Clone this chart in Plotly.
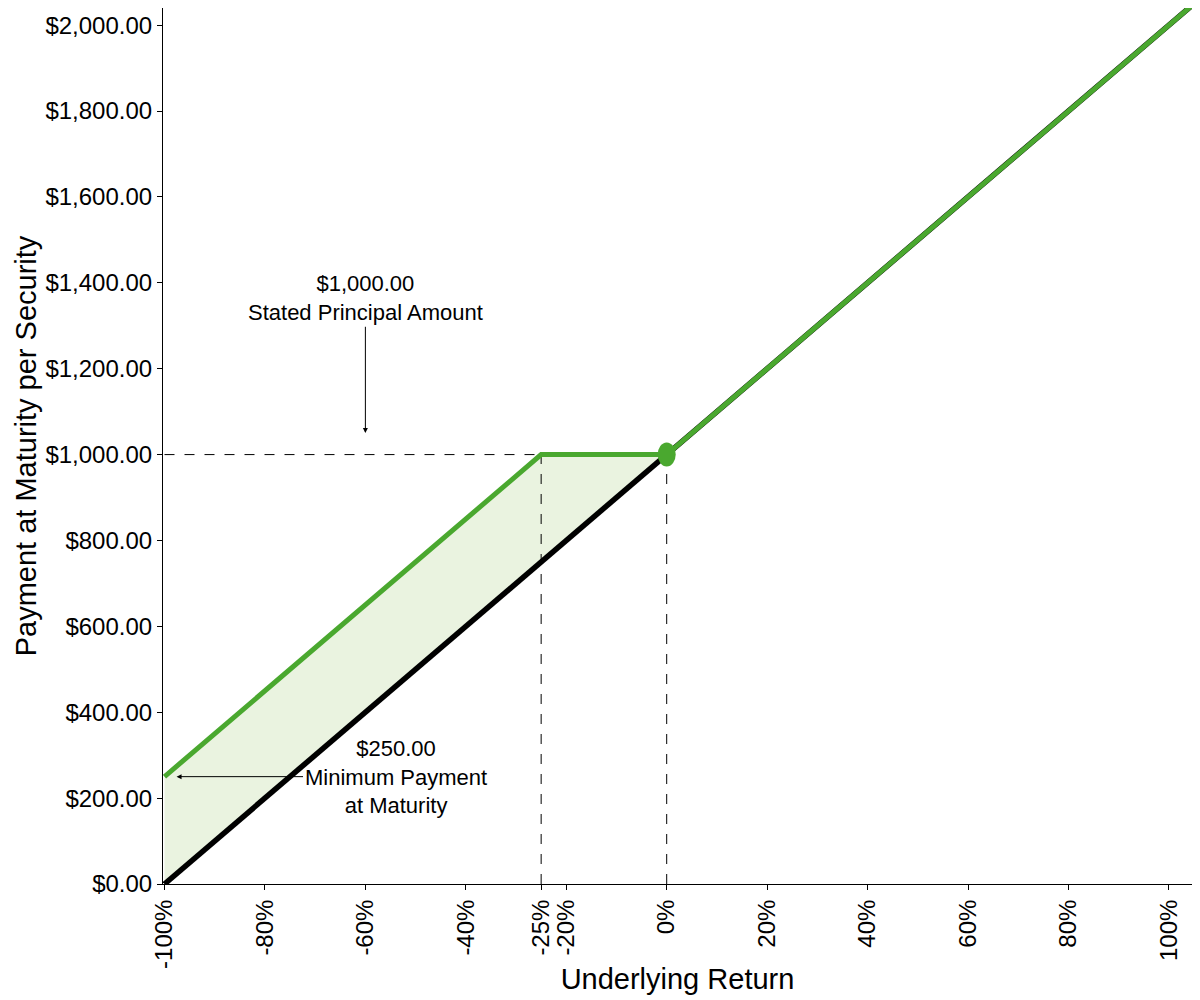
import plotly.graph_objects as go

# underlying return (%) and payment at maturity ($)
ret_full = [-100, 104.5]
direct_pay = [0, 2045]

buffer_ret = [-100, -25, 0]
buffer_pay = [250, 1000, 1000]

base_ret = [-100, 0]
base_pay = [0, 1000]

upside_ret = [0, 104.5]
upside_pay = [1000, 2045]

principal_ret = [-100, 0]
principal_pay = [1000, 1000]
buffer_level = [-25, -25]
zero_level = [0, 0]
drop_pay = [0, 1000]

kink_ret = 0
kink_pay = 1000

x_ticks = [-100, -80, -60, -40, -25, -20, 0, 20, 40, 60, 80, 100]
x_labels = [f"{t}%" for t in x_ticks]
y_ticks = list(range(0, 2001, 200))
y_labels = [f"${v:,.2f}" for v in y_ticks]

GREEN = "#4aa82f"
FILL = "#eaf3e0"
FONT = "Arial, Liberation Sans, sans-serif"


def main():
    fig = go.Figure()

    # shaded buffer region
    fig.add_trace(go.Scatter(x=base_ret, y=base_pay, mode="lines",
                             line=dict(width=0), hoverinfo="skip"))
    fig.add_trace(go.Scatter(x=buffer_ret, y=buffer_pay, mode="lines",
                             line=dict(width=0), fill="tonexty",
                             fillcolor=FILL, hoverinfo="skip"))

    # dashed guides
    dash = dict(color="black", width=1, dash="10px,10px")
    fig.add_trace(go.Scatter(x=principal_ret, y=principal_pay, mode="lines", line=dash))
    fig.add_trace(go.Scatter(x=buffer_level, y=drop_pay, mode="lines", line=dash))
    fig.add_trace(go.Scatter(x=zero_level, y=drop_pay, mode="lines", line=dash))

    # oval marker at the kink
    fig.add_shape(type="circle", xref="x", yref="y",
                  xsizemode="pixel", ysizemode="pixel",
                  xanchor=kink_ret, yanchor=kink_pay,
                  x0=-9, x1=9, y0=-12, y1=12,
                  fillcolor=GREEN, line=dict(width=0), layer="above")

    # direct underlying line
    fig.add_trace(go.Scatter(x=ret_full, y=direct_pay, mode="lines",
                             line=dict(color="black", width=5.5)))

    # security payoff
    fig.add_trace(go.Scatter(x=buffer_ret, y=buffer_pay, mode="lines",
                             line=dict(color=GREEN, width=5)))
    fig.add_trace(go.Scatter(x=upside_ret, y=upside_pay, mode="lines",
                             line=dict(color=GREEN, width=5)))

    fig.add_annotation(x=-60, y=1050, ax=-60, ay=1364, axref="x", ayref="y",
                       text="$1,000.00<br>Stated Principal Amount",
                       showarrow=True, arrowhead=2, arrowsize=1, arrowwidth=1,
                       arrowcolor="black", font=dict(size=22, color="black"))
    fig.add_annotation(x=-97.6, y=250, ax=-54, ay=250, axref="x", ayref="y",
                       text="$250.00<br>Minimum Payment<br>at Maturity",
                       showarrow=True, arrowhead=2, arrowsize=1, arrowwidth=1,
                       arrowcolor="black", font=dict(size=22, color="black"))

    # page body adds an 8px offset, so the figure is sized a bit smaller
    fig.update_layout(
        width=1192, height=992,
        margin=dict(l=155, r=8, t=0, b=116),
        showlegend=False,
        plot_bgcolor="white", paper_bgcolor="white",
        font=dict(family=FONT, size=24, color="black"),
        xaxis=dict(
            range=[-100.3, 104.6], tickvals=x_ticks, ticktext=x_labels,
            tickangle=-90, ticks="outside", ticklen=5, tickcolor="black",
            showgrid=False, zeroline=False, showline=True, linecolor="black",
            linewidth=1, mirror=True, automargin=False,
            title=dict(text="Underlying Return", standoff=0),
        ),
        yaxis=dict(
            range=[0, 2040], tickvals=y_ticks, ticktext=y_labels,
            ticks="outside", ticklen=5, tickcolor="black",
            showgrid=False, zeroline=False, showline=True, linecolor="black",
            linewidth=1, mirror=True, automargin=False,
            title=dict(text="Payment at Maturity per Security", standoff=0),
        ),
    )

    fig.write_html("out.html")


if __name__ == "__main__":
    main()
